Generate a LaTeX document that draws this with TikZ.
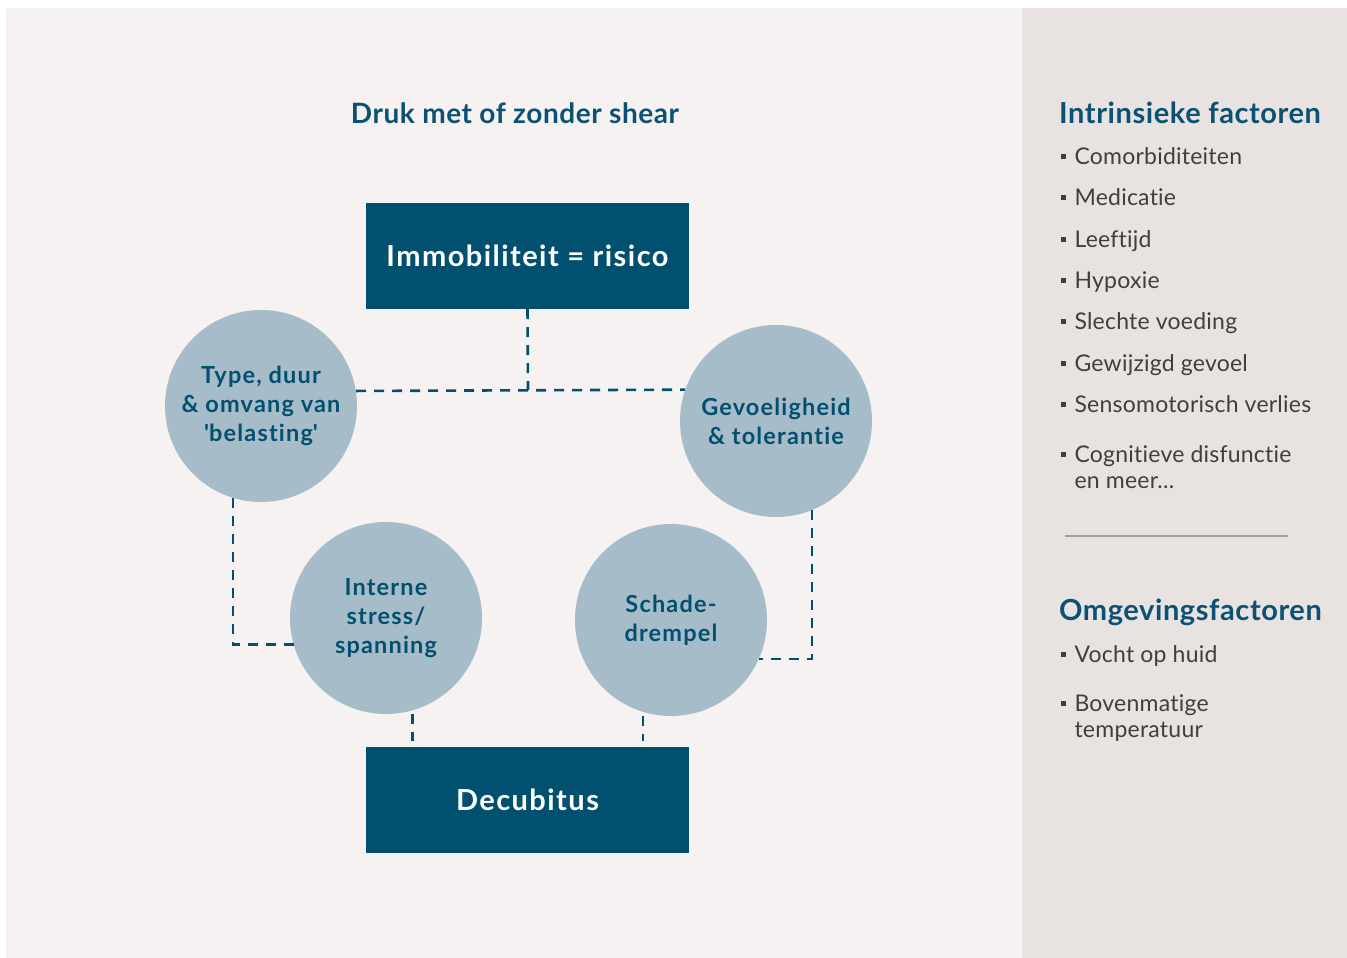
\documentclass[tikz,border=0pt]{standalone}
\usepackage{fontspec}
\setmainfont[Ligatures={NoCommon}]{Lato}
\newfontfamily\tightfont[Ligatures={NoCommon}, LetterSpace=1]{Lato}
\newfontfamily\wideafont[Ligatures={NoCommon}, LetterSpace=2]{Lato}
\newfontfamily\widebfont[Ligatures={NoCommon}, LetterSpace=5]{Lato}
\definecolor{navy}{HTML}{02506F}
\definecolor{headblue}{HTML}{0A5173}
\definecolor{circfill}{HTML}{A7BCC9}
\definecolor{bgmain}{HTML}{F6F2F1}
\definecolor{bgpanel}{HTML}{E8E3E0}
\definecolor{itemgray}{HTML}{3F3F3F}
\definecolor{rulegray}{HTML}{A3A09E}
\newcommand{\sqb}{\rule[0.2em]{0.22em}{0.22em}\hspace{0.36em}}
\tikzset{
  box/.style={rectangle, fill=navy, text=white, minimum width=323pt, minimum height=106pt,
    inner sep=0pt, font=\widebfont\bfseries\fontsize{29}{32}\selectfont},
  factor/.style={circle, fill=circfill, text=navy, minimum size=192pt, inner sep=0pt,
    align=center, font=\widebfont\bfseries\fontsize{23.5}{29}\selectfont},
  link/.style={draw=navy, line width=2.6pt, dash pattern=on 10pt off 8pt},
  heading/.style={anchor=base west, inner sep=0pt, text=headblue,
    font=\wideafont\bfseries\fontsize{29}{32}\selectfont},
  item/.style={anchor=base west, inner sep=0pt, text=itemgray, align=left,
    font=\tightfont\fontsize{23}{26}\selectfont},
}
\begin{document}
\begin{tikzpicture}[x=1pt, y=-1pt]
  \useasboundingbox (0,0) rectangle (1347,958);
  % backgrounds
  \fill[white] (0,0) rectangle (1347,958);
  \fill[bgmain] (6,8) rectangle (1022,958);
  \fill[bgpanel] (1022,8) rectangle (1347,958);

  % title
  \node[anchor=base, inner sep=0pt, text=headblue, font=\wideafont\bfseries\fontsize{28}{32}\selectfont]
    (title) at (515,123) {Druk met of zonder shear};

  % main boxes
  \node[box] (imm) at (527.5,256) {Immobiliteit = risico};
  \node[box] (dec) at (527.5,800) {Decubitus};

  % factor circles
  \node[factor] (typ) at (261,406) {Type, duur\\\& omvang van\\\textquotesingle belasting\textquotesingle};
  \node[factor] (gev) at (776,421) {Gevoeligheid\\\& tolerantie};
  \node[factor] (int) at (386,618) {Interne\\stress/\\spanning};
  \node[factor] (sch) at (671,620) {Schade-\\drempel};

  % dashed connectors
  \coordinate (tee) at (528,390);
  \draw[link] (imm.south) -- (tee);
  \draw[link] (typ.9.6) -- (gev.161.2);
  \draw[link] (typ.253.7) |- (int.196.3);
  \draw[link] (gev.292.7) |- (sch.336);
  \draw[link, shorten <=4pt, shorten >=6pt] (int.286.3) -- (int.286.3 |- dec.north);
  \draw[link, shorten <=4pt, shorten >=6pt] (sch.253.7) -- (sch.253.7 |- dec.north);

  % side panel: intrinsic factors
  \node[heading] (hin) at (1059,123) {Intrinsieke factoren};
  \node[item] (i1) at (1061,164) {\sqb Comorbiditeiten};
  \node[item] (i2) at (1061,205) {\sqb Medicatie};
  \node[item] (i3) at (1061,247) {\sqb Leeftijd};
  \node[item] (i4) at (1061,288) {\sqb Hypoxie};
  \node[item] (i5) at (1061,329) {\sqb Slechte voeding};
  \node[item] (i6) at (1061,371) {\sqb Gewijzigd gevoel};
  \node[item] (i7) at (1061,412) {\sqb Sensomotorisch verlies};
  \node[item] (i8) at (1061,488) {\sqb Cognitieve disfunctie\\\phantom{\sqb}en meer...};

  % separator
  \coordinate (sepL) at (1065,536);
  \coordinate (sepR) at (1288,536);
  \draw[rulegray, line width=1.5pt] (sepL) -- (sepR);

  % side panel: environmental factors
  \node[heading] (hom) at (1059,620) {Omgevingsfactoren};
  \node[item] (o1) at (1061,662) {\sqb Vocht op huid};
  \node[item] (o2) at (1061,737) {\sqb Bovenmatige\\\phantom{\sqb}temperatuur};
\end{tikzpicture}
\end{document}
